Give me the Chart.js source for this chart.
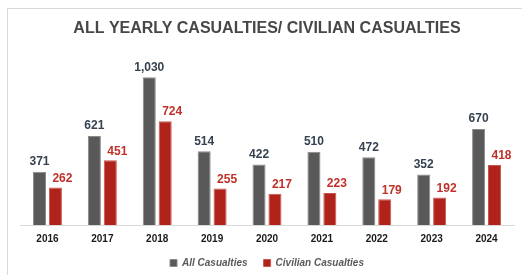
<!DOCTYPE html>
<html>
<head>
<meta charset="utf-8">
<script src="https://cdn.jsdelivr.net/npm/chart.js@4.4.1/dist/chart.umd.min.js"></script>
<style>
  html, body { margin: 0; padding: 0; background: #fff; }
  body { width: 522px; height: 275px; overflow: hidden; position: relative; }
  #frame {
    position: absolute; left: 7px; top: 8px; width: 540px; height: 290px;
    border: 1px solid #d9d9d9; box-sizing: border-box;
  }
  #wrap { position: absolute; left: 0; top: 0; width: 522px; height: 278px; }
</style>
</head>
<body>
<div id="frame"></div>
<div id="wrap"><canvas id="chart"></canvas></div>
<script>
const years = ['2016', '2017', '2018', '2019', '2020', '2021', '2022', '2023', '2024'];
const allCasualties = [371, 621, 1030, 514, 422, 510, 472, 352, 670];
const civilianCasualties = [262, 451, 724, 255, 217, 223, 179, 192, 418];

// etikete iznad stubova
const barLabels = {
  id: 'barLabels',
  afterDatasetsDraw(chart) {
    const ctx = chart.ctx;
    ctx.save();
    ctx.textAlign = 'center';
    ctx.textBaseline = 'bottom';
    chart.data.datasets.forEach((ds, i) => {
      const meta = chart.getDatasetMeta(i);
      ctx.fillStyle = ds.labelColor;
      ctx.font = ds.labelFont;
      meta.data.forEach((bar, j) => {
        const text = ds.data[j].toLocaleString('en-US');
        ctx.fillText(text, bar.x + ds.labelDx, bar.y - ds.labelDy);
      });
    });
    ctx.restore();
  }
};

new Chart(document.getElementById('chart').getContext('2d'), {
  type: 'bar',
  data: {
    labels: years,
    datasets: [{
      label: 'All Casualties',
      data: allCasualties,
      backgroundColor: '#595959',
      borderColor: '#8a8a8a',
      borderWidth: 1,
      categoryPercentage: 0.58,
      barPercentage: 0.82,
      labelColor: '#364250',
      labelFont: 'bold 12px "Liberation Sans", Arial, sans-serif',
      labelDx: 0,
      labelDy: 4
    }, {
      label: 'Civilian Casualties',
      data: civilianCasualties,
      backgroundColor: '#b0231a',
      borderColor: '#c9574f',
      borderWidth: 1,
      categoryPercentage: 0.58,
      barPercentage: 0.82,
      labelColor: '#c0312a',
      labelFont: 'bold 12px "Liberation Sans", Arial, sans-serif',
      labelDx: 7,
      labelDy: 3
    }]
  },
  options: {
    responsive: true,
    maintainAspectRatio: false,
    animation: false,
    layout: { padding: { top: 19, left: 20, right: 8, bottom: 0 } },
    plugins: {
      title: {
        display: true,
        text: 'ALL YEARLY CASUALTIES/ CIVILIAN CASUALTIES',
        color: '#474747',
        font: { family: '"Liberation Sans", Arial, sans-serif', size: 16, weight: 'bold' },
        padding: { top: 0, bottom: 29 }
      },
      legend: {
        position: 'bottom',
        labels: {
          color: '#595959',
          font: { family: '"Liberation Sans", Arial, sans-serif', size: 10, weight: 'bold', style: 'italic' },
          boxWidth: 7,
          boxHeight: 7,
          padding: 16
        }
      },
      tooltip: { enabled: false }
    },
    scales: {
      x: {
        grid: { display: false, drawTicks: false },
        border: { color: '#d9d9d9', width: 1 },
        ticks: {
          color: '#1a1a1a',
          font: { family: '"Liberation Sans", Arial, sans-serif', size: 10, weight: 'bold' },
          padding: 8
        },
        afterFit(scale) { scale.height = 17; }
      },
      y: {
        display: false,
        min: 0,
        max: 1100
      }
    }
  },
  plugins: [barLabels]
});
</script>
</body>
</html>
